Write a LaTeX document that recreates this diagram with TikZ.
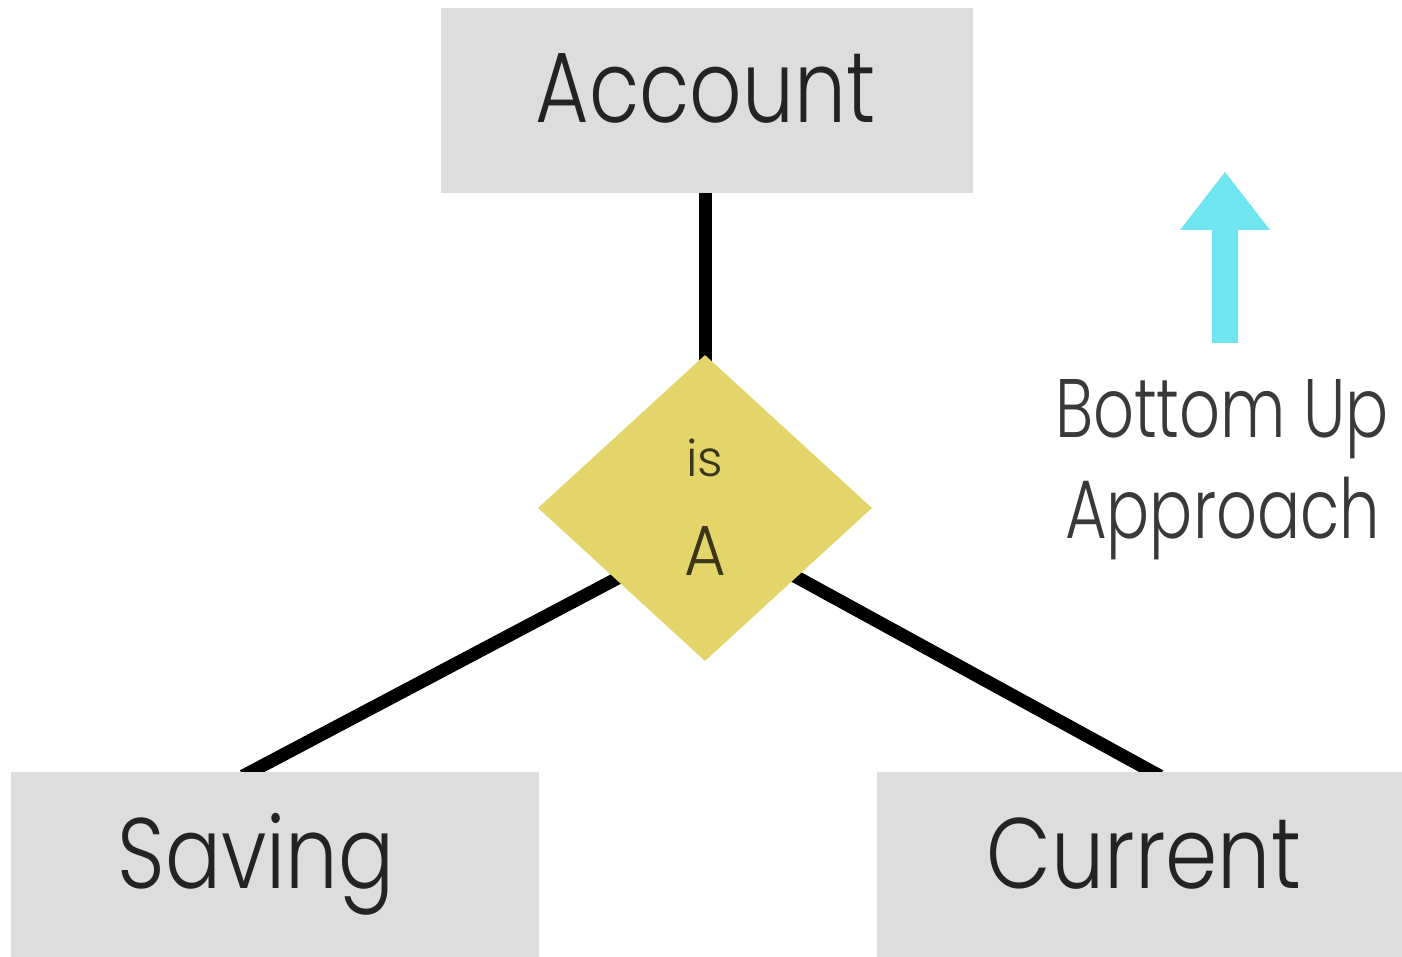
\documentclass[tikz,border=0pt]{standalone}
\usepackage{fontspec}
\usepackage{graphicx}
\setmainfont{Poppins}[UprightFont=* Light]
\usetikzlibrary{shapes.geometric,backgrounds}
\definecolor{boxgray}{HTML}{DDDDDD}
\definecolor{isayellow}{HTML}{E4D56A}
\definecolor{arrowcyan}{HTML}{6FE5EF}
\definecolor{txt}{HTML}{232323}
\definecolor{dtxt}{HTML}{3B3618}
\newcommand{\sqz}[2]{\scalebox{#1}[1]{#2}}
\begin{document}
\begin{tikzpicture}[x=1pt,y=-1pt,
  entity/.style={rectangle,fill=boxgray,draw=none,inner sep=0pt},
  lbl/.style={anchor=base,inner sep=0pt,text=txt,font=\fontsize{100}{110}\selectfont},
  side/.style={anchor=base,inner sep=0pt,text=txt!90,font=\fontsize{83}{95}\selectfont},
  conn/.style={draw=black,line width=13pt}]
\useasboundingbox (0,0) rectangle (1402,957);
% boxes
\node[entity,minimum width=532pt,minimum height=185pt] (account) at (707,100.5) {};
\node[entity,minimum width=528pt,minimum height=185pt] (saving) at (275,864.5) {};
\node[entity,minimum width=525pt,minimum height=185pt] (current) at (1139.5,864.5) {};
% diamond
\node[diamond,fill=isayellow,draw=none,inner sep=0pt,minimum width=334pt,minimum height=306pt] (isa) at (705,508) {};
% labels
\node[lbl] (tacc) at (705.5,123) {\sqz{0.82}{Account}};
\node[lbl] (tsav) at (256,888) {\sqz{0.83}{Saving}};
\node[lbl] (tcur) at (1144,888) {\sqz{0.84}{Current}};
\node[anchor=base,inner sep=0pt,text=dtxt,font=\fontsize{50}{55}\selectfont] (tis) at (705,476) {is};
\node[anchor=base,inner sep=0pt,text=dtxt,font=\fontsize{71}{78}\selectfont] (ta) at (705,575) {\sqz{0.9}{A}};
\node[side] (tbu) at (1222,437) {\sqz{0.77}{Bottom Up}};
\node[side] (tap) at (1222.5,538) {\sqz{0.77}{Approach}};
% connectors
\coordinate (isaL) at (705,532);
\coordinate (isaR) at (705,527);
\coordinate (savTop) at (243,776);
\coordinate (curTop) at (1160,776);
\begin{scope}[on background layer]
\draw[conn] (account.south -| isa.center) -- (isa.center);
\draw[conn] (isaL) -- (savTop);
\draw[conn] (isaR) -- (curTop);
\end{scope}
% arrow
\fill[arrowcyan] (1212,343) -- (1212,230) -- (1180,230) -- (1225,172) -- (1270,230) -- (1238,230) -- (1238,343) -- cycle;
\end{tikzpicture}
\end{document}
